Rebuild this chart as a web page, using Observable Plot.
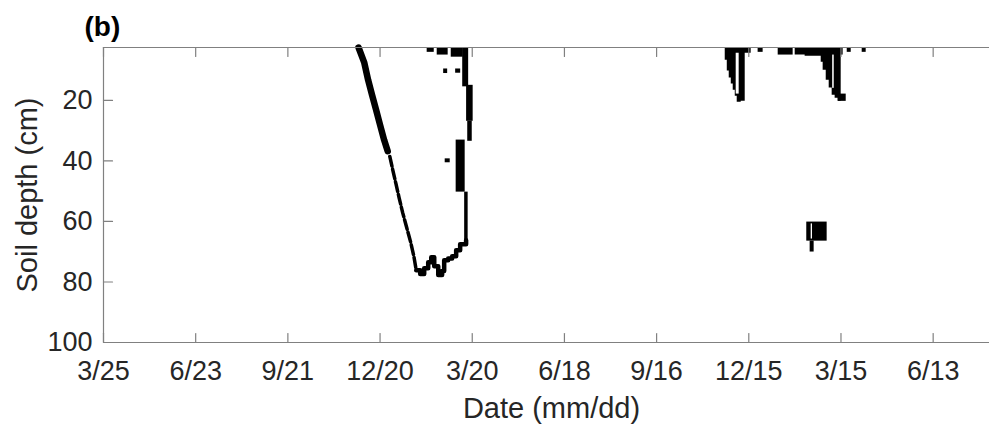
<!DOCTYPE html>
<html><head><meta charset="utf-8">
<script src="https://cdn.jsdelivr.net/npm/d3@7"></script>
<script src="https://cdn.jsdelivr.net/npm/@observablehq/plot@0.6"></script>
<style>
html,body{margin:0;padding:0;background:#fff;}
#chart svg{display:block;}
</style></head><body><div id="chart"></div>
<script>
// ---- axis definitions ----
const startDate = "2017-03-25";
const dayDomain = [0, 865];               // days since startDate
const depthDomain = [2.5, 100];           // cm
const tickDates = ["2017-03-25","2017-06-23","2017-09-21","2017-12-20","2018-03-20","2018-06-18","2018-09-16","2018-12-15","2019-03-15","2019-06-13"];
const tickLabels = ["3/25","6/23","9/21","12/20","3/20","6/18","9/16","12/15","3/15","6/13"];
const depthTicks = [20, 40, 60, 80, 100];

// ---- frozen-soil boundary, winter 1 (days since start, depth cm) ----
const front1Days  = [249.0, 254.5, 258.4, 262.3, 266.2, 270.1, 274.0, 277.5];
const front1Depth = [2.5, 7.4, 13.3, 18.3, 23.2, 28.2, 33.1, 36.8];
const front1LowDays  = [279.5, 282.5, 285.5, 288.5, 292.0, 296.0, 300.0, 303.0, 305.3];
const front1LowDepth = [38.5, 43.1, 47.5, 52.0, 57.0, 62.0, 67.0, 71.5, 76.1];
const bottom1Days  = [305.3, 309.2, 313.1, 317.0, 320.0, 322.9, 326.8, 330.6, 332.6, 336.5, 340.4, 344.3, 348.2, 354.0];
const bottom1Depth = [76.1, 77.4, 75.5, 73.5, 71.8, 74.8, 77.7, 76.4, 72.8, 72.2, 71.5, 69.5, 67.5, 66.2];

// ---- frozen cells: start day, end day, top depth, bottom depth ----
const cellStart  = [316.0, 325.8, 339.5, 332.1, 343.8, 333.6, 350.7, 354.5, 355.6, 344.3, 352.6, 639.1, 658.7, 726.1, 740.7, 717.3, 719.0, 686.6, 689.9];
const cellEnd    = [322.9, 336.5, 351.2, 336.0, 348.7, 338.5, 356.5, 360.9, 360.0, 353.1, 356.0, 644.0, 673.3, 730.0, 744.6, 725.1, 722.1, 706.5, 693.8];
const cellTop    = [2.5, 2.5, 2.5, 9.6, 9.6, 39.3, 2.5, 15.0, 26.9, 33.1, 50.3, 2.5, 2.5, 2.5, 2.5, 17.9, 2.5, 60.2, 66.5];
const cellBottom = [4.1, 5.0, 5.7, 11.1, 11.0, 40.6, 15.5, 26.9, 33.5, 50.3, 66.2, 4.1, 5.0, 4.1, 4.1, 20.3, 5.0, 66.5, 70.1];

// ---- winter 2 frozen spikes from the surface (step profile) ----
const spike1Days  = [607.0, 609.0, 610.9, 612.9, 614.8, 616.8, 618.7, 622.6, 626.5, 632.3];
const spike1Depth = [6.7, 10.3, 12.6, 14.6, 16.6, 18.6, 20.6, 20.3, 4.4, 2.5];
const spike2Days  = [675.3, 685.0, 700.7, 702.6, 705.6, 708.5, 711.4, 714.3, 717.3, 720.2];
const spike2Depth = [5.0, 5.4, 7.4, 10.0, 13.3, 15.9, 18.3, 19.3, 20.3, 2.5];

// ---- unfrozen gaps inside frozen zones ----
const gapStart  = [617.7, 711.9, 690.9];
const gapEnd    = [620.6, 713.4, 692.2];
const gapTop    = [4.4, 5.0, 60.8];
const gapBottom = [17.9, 16.0, 65.8];

// ---- build ----
const t0 = new Date(startDate + "T00:00:00Z");
const toDate = d => new Date(+t0 + d * 864e5);
const pts = (days, depth) => days.map((d, i) => ({date: toDate(d), depth: depth[i]}));
const cells = cellStart.map((s, i) => ({x1: toDate(s), x2: toDate(cellEnd[i]), y1: cellTop[i], y2: cellBottom[i]}));
const gaps = gapStart.map((s, i) => ({x1: toDate(s), x2: toDate(gapEnd[i]), y1: gapTop[i], y2: gapBottom[i]}));
const ticks = tickDates.map(s => new Date(s + "T00:00:00Z"));
const tickShape = {draw(context, l) { context.moveTo(0, 0); context.lineTo(0, -l); }};
const axisColor = "#808080";
const textColor = "#262626";

const chart = Plot.plot({
  width: 989, height: 429,
  marginLeft: 103, marginRight: 0, marginTop: 47, marginBottom: 87,
  style: {fontFamily: "'Liberation Sans', Arial, sans-serif", background: "#fff", overflow: "visible"},
  x: {type: "utc", domain: dayDomain.map(toDate), axis: null},
  y: {domain: depthDomain, reverse: true, axis: null},
  marks: [
    Plot.areaY(pts(spike1Days, spike1Depth), {x: "date", y1: depthDomain[0], y2: "depth", curve: "step-after", fill: "black"}),
    Plot.areaY(pts(spike2Days, spike2Depth), {x: "date", y1: depthDomain[0], y2: "depth", curve: "step-after", fill: "black"}),
    Plot.rect(cells, {x1: "x1", x2: "x2", y1: "y1", y2: "y2", fill: "black"}),
    Plot.rect(gaps, {x1: "x1", x2: "x2", y1: "y1", y2: "y2", fill: "white"}),
    Plot.line(pts(front1Days, front1Depth), {x: "date", y: "depth", stroke: "black", strokeWidth: 6.5}),
    Plot.line(pts(front1LowDays, front1LowDepth), {x: "date", y: "depth", stroke: "black", strokeWidth: 3.5, strokeDasharray: "10,3"}),
    Plot.line(pts(bottom1Days, bottom1Depth), {x: "date", y: "depth", stroke: "black", strokeWidth: 4.5, curve: "step-after"}),
    // axes frame
    Plot.ruleY([depthDomain[0], depthDomain[1]], {stroke: axisColor, strokeWidth: 1.2}),
    Plot.ruleX([toDate(dayDomain[0])], {stroke: axisColor, strokeWidth: 1.2}),
    Plot.vector(ticks, {x: d => d, frameAnchor: "bottom", length: 9, rotate: 0, anchor: "start", shape: tickShape, stroke: axisColor, strokeWidth: 1.2}),
    Plot.vector(ticks, {x: d => d, frameAnchor: "top", length: 9, rotate: 180, anchor: "start", shape: tickShape, stroke: axisColor, strokeWidth: 1.2}),
    Plot.vector(depthTicks, {y: d => d, frameAnchor: "left", length: 9, rotate: 90, anchor: "start", shape: tickShape, stroke: axisColor, strokeWidth: 1.2}),
    Plot.text(ticks, {x: d => d, text: (d, i) => tickLabels[i], frameAnchor: "bottom", dy: 18, lineAnchor: "top", textAnchor: "middle", fontSize: 27, fill: textColor}),
    Plot.text(depthTicks, {y: d => d, text: d => String(d), frameAnchor: "left", dx: -11, textAnchor: "end", lineAnchor: "middle", fontSize: 27, fill: textColor}),
    Plot.text(["Soil depth (cm)"], {text: d => d, frameAnchor: "left", dx: -76, rotate: -90, textAnchor: "middle", lineAnchor: "middle", fontSize: 29, fill: textColor}),
    Plot.text(["Date (mm/dd)"], {text: d => d, frameAnchor: "bottom", dx: 5, dy: 55, lineAnchor: "top", textAnchor: "middle", fontSize: 29, fill: textColor}),
    Plot.text(["(b)"], {text: d => d, frameAnchor: "top-left", dx: -19, dy: -31, lineAnchor: "top", textAnchor: "start", fontSize: 28, fontWeight: "bold", fill: "black"})
  ]
});
document.getElementById("chart").appendChild(chart);
</script>
</body></html>
